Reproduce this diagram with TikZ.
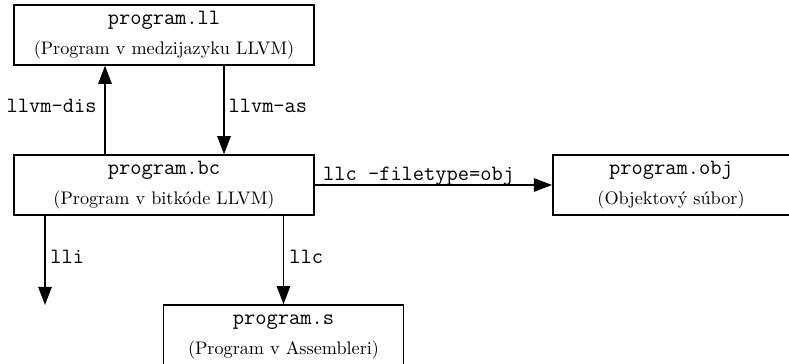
\documentclass[tikz,border=0pt]{standalone}
\usetikzlibrary{arrows.meta}
\begin{document}
\begin{tikzpicture}[x=0.55pt,y=-0.55pt,
  box/.style={draw, rectangle, inner sep=0pt, line width=0.8pt, minimum height=33pt},
  fname/.style={font=\fontsize{12}{14}\selectfont\ttfamily, anchor=base, inner sep=0pt},
  desc/.style={font=\fontsize{10}{12}\selectfont, anchor=base, inner sep=0pt},
  lab/.style={font=\fontsize{12}{14}\selectfont\ttfamily, inner sep=0pt},
  arr/.style={-{Triangle[length=10pt,width=7.4pt]}, line width=0.8pt}]
\useasboundingbox (0,0) rectangle (789,364);

% boxes
\node[box, minimum width=165pt] (ll) at (164,35) {};
\node[box, minimum width=165pt] (bc) at (164,185) {};
\node[box, minimum width=130.6pt] (obj) at (671.5,185) {};
\node[box, minimum width=132pt] (s) at (283.5,335) {};

% texts
\node[fname] (llname) at (164,25) {program.ll};
\node[desc] (lldesc) at (164,55) {(Program v medzijazyku LLVM)};
\node[fname] (bcname) at (164,175) {program.bc};
\node[desc] (bcdesc) at (164,205) {(Program v bitkóde LLVM)};
\node[fname] (objname) at (671,175) {program.obj};
\node[desc] (objdesc) at (671,205) {(Objektový súbor)};
\node[fname] (sname) at (283.5,325) {program.s};
\node[desc] (sdesc) at (283.5,355) {(Program v Assembleri)};

% helper coordinates
\coordinate (xdis) at (105,0);
\coordinate (xas) at (224,0);
\coordinate (xlli) at (45,0);
\coordinate (lliend) at (45,305);

% connectors
\draw[arr] (bc.north -| xdis) -- (ll.south -| xdis)
  node[lab, midway, anchor=east, xshift=-4.2pt, yshift=2.2pt] (ldis) {llvm-dis};
\draw[arr] (ll.south -| xas) -- (bc.north -| xas)
  node[lab, midway, anchor=west, xshift=2.1pt, yshift=2.2pt] (las) {llvm-as};
\draw[arr] (bc.south -| xlli) -- (lliend)
  node[lab, midway, anchor=west, xshift=2.6pt, yshift=1.8pt] (llli) {lli};
\draw[arr] (bc.south -| s.north) -- (s.north)
  node[lab, midway, anchor=west, xshift=2.8pt, yshift=1.8pt] (lllc) {llc};
\draw[arr] (bc.east) -- (obj.west)
  node[lab, pos=0, anchor=base west, xshift=4.2pt, yshift=2.4pt] (lobj) {llc -filetype=obj};
\end{tikzpicture}
\end{document}
